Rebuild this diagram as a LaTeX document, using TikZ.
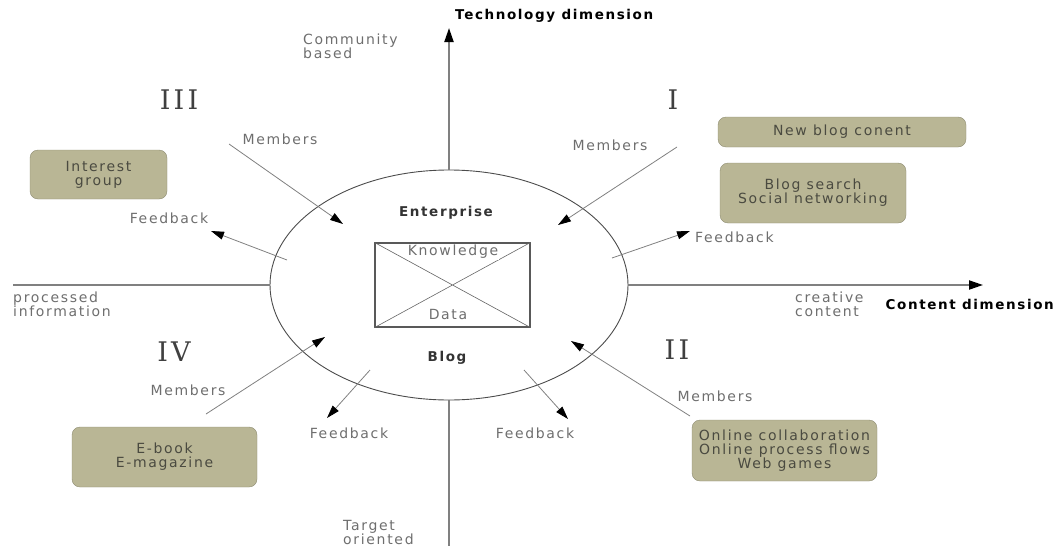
\documentclass[tikz,border=0pt]{standalone}
\usepackage{fontspec}
\setsansfont{DejaVu Sans}[LetterSpace=12]
\newfontfamily\numfont{DejaVu Serif}[LetterSpace=12]
\usetikzlibrary{positioning, arrows.meta, shapes.geometric}
\definecolor{boxfill}{HTML}{B9B695}
\definecolor{boxline}{HTML}{8E8C72}
\definecolor{boxtext}{HTML}{4A4A40}
\definecolor{labelgray}{HTML}{6E6E6E}
\definecolor{linegray}{HTML}{808080}

\begin{document}
\begin{tikzpicture}[
          x=1pt, y=-1pt,
          font=\sffamily\fontsize{14}{14}\selectfont,
          lbl/.style={text=labelgray, inner sep=0pt, align=left},
          dim/.style={inner sep=0pt, font=\sffamily\bfseries\fontsize{13.5}{14}\selectfont},
          quad/.style={inner sep=0pt, text=black!75, font=\numfont\fontsize{27}{27}\selectfont},
          box/.style={draw=boxline, fill=boxfill, rounded corners=8pt, align=center, text=boxtext, inner sep=2pt},
          axis/.style={draw=linegray, line width=2pt},
          link/.style={draw=linegray, line width=0.8pt, -{Triangle[length=13pt, width=8pt, color=black]}}
      ]
          \useasboundingbox (0,0) rectangle (1059,546);

          % Kern: Ellipse mit Wissensquadrat
          \node[ellipse, draw=black!70, line width=0.9pt, minimum width=358, minimum height=230] (blog) at (449,285) {};
          \node[dim, text=black!80] (ent) at (446,213) {Enterprise};
          \node[dim, text=black!80] (blg) at (447,358) {Blog};
          \node[draw=black!65, line width=1.2pt, minimum width=155, minimum height=84, inner sep=0pt] (kd) at (452.5,285) {};
          \draw[black!60, line width=0.6pt] (kd.north west) -- (kd.south east) (kd.north east) -- (kd.south west);
          \node[lbl, fill=white, inner sep=1pt] (know) at (453,252) {Knowledge};
          \node[lbl, fill=white, inner sep=1pt] (data) at (448,314) {Data};

          % Achsen
          \coordinate (techtip) at (449,28);
          \coordinate (conttip) at (983,285);
          \coordinate (procend) at (13,285);
          \coordinate (targend) at (449,546);
          \draw[axis, -{Triangle[length=14pt, width=9pt, color=black]}] (blog.north) -- (techtip);
          \draw[axis, -{Triangle[length=14pt, width=9pt, color=black]}] (blog.east) -- (conttip);
          \draw[axis] (blog.west) -- (procend);
          \draw[axis] (blog.south) -- (targend);
          \node[dim, anchor=west] (techdim) at (455,16) {Technology dimension};
          \node[dim, anchor=east] (contdim) at (1054,304) {Content dimension};
          \node[lbl, anchor=north west] (community) at (303,34) {Community\\based};
          \node[lbl, anchor=west] (processed) at (13,304.5) {processed\\information};
          \node[lbl, anchor=west] (creative) at (795,304.5) {creative\\content};
          \node[lbl, anchor=west] (target) at (343,532) {Target\\oriented};

          % Quadrantennummern
          \node[quad] (q3) at (179,100) {III};
          \node[quad] (q1) at (673,100) {I};
          \node[quad] (q2) at (677,350) {II};
          \node[quad] (q4) at (174,352) {IV};

          % Quadrant III
          \node[box, minimum width=137, minimum height=49] (interest) at (98.5,174.5) {Interest\\group};
          \coordinate (m3a) at (229,144);
          \coordinate (m3b) at (343,224);
          \draw[link] (m3a) -- (m3b);
          \node[lbl] (m3lbl) at (280,139) {Members};
          \coordinate (f3a) at (287,260);
          \coordinate (f3b) at (211,231);
          \draw[link] (f3a) -- (f3b);
          \node[lbl] (f3lbl) at (169,218) {Feedback};

          % Quadrant I
          \node[box, minimum width=248, minimum height=30] (newblog) at (842,132) {New blog conent};
          \node[box, minimum width=186, minimum height=60] (search) at (813,193) {Blog search\\Social networking};
          \coordinate (m1a) at (677,147);
          \coordinate (m1b) at (558,225);
          \draw[link] (m1a) -- (m1b);
          \node[lbl] (m1lbl) at (610,145) {Members};
          \coordinate (f1a) at (612,258);
          \coordinate (f1b) at (690,231);
          \draw[link] (f1a) -- (f1b);
          \node[lbl, anchor=west] (f1lbl) at (695,237) {Feedback};

          % Quadrant II
          \node[box, minimum width=185, minimum height=61] (online) at (784.5,450.5) {Online collaboration\\Online process flows\\Web games};
          \coordinate (m2a) at (690,416);
          \coordinate (m2b) at (571,341);
          \draw[link] (m2a) -- (m2b);
          \node[lbl] (m2lbl) at (715,396) {Members};
          \coordinate (f2a) at (524,370);
          \coordinate (f2b) at (568,419);
          \draw[link] (f2a) -- (f2b);
          \node[lbl] (f2lbl) at (535,433) {Feedback};

          % Quadrant IV
          \node[box, minimum width=185, minimum height=60] (ebook) at (164.5,457) {E-book\\E-magazine};
          \coordinate (m4a) at (206,414);
          \coordinate (m4b) at (325,337);
          \draw[link] (m4a) -- (m4b);
          \node[lbl] (m4lbl) at (188,390) {Members};
          \coordinate (f4a) at (370,370);
          \coordinate (f4b) at (327,418);
          \draw[link] (f4a) -- (f4b);
          \node[lbl] (f4lbl) at (349,433) {Feedback};
      \end{tikzpicture}
\end{document}
